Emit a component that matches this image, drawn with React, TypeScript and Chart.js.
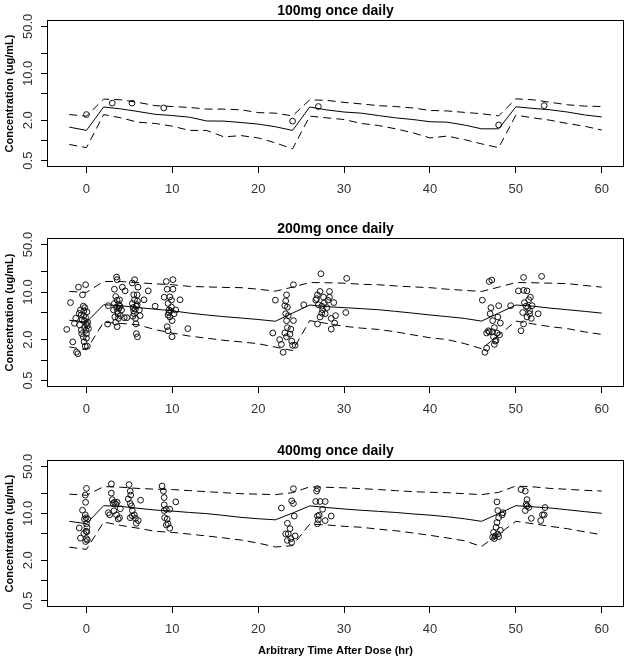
import React, { useEffect, useRef } from 'react';
import { Chart, registerables } from 'chart.js';

Chart.register(...registerables);

// ---------- DATA ----------
const TIMES = [-2, 0, 2, 4, 6, 8, 10, 12, 14, 16, 18, 20, 22, 24, 26, 28, 30, 32, 34, 36, 38, 40, 42, 44, 46, 48, 50, 52, 54, 56, 58, 60];

const X_TICKS = [0, 10, 20, 30, 40, 50, 60];
const Y_TICKS = [0.5, 1, 2, 5, 10, 20, 50];
const Y_TICK_LABELS = ['0.5', '', '2.0', '', '10.0', '', '50.0'];

const TITLES = ['100mg once daily', '200mg once daily', '400mg once daily'];
const Y_TITLE = 'Concentration (ug/mL)';
const X_TITLE = 'Arbitrary Time After Dose (hr)';

// 100 mg
const MEDIAN_100 = [1.58, 1.41, 3.15, 2.95, 2.7, 2.45, 2.35, 2.22, 1.95, 1.94, 1.85, 1.75, 1.6, 1.41, 3.15, 2.85, 2.65, 2.55, 2.35, 2.17, 2.05, 1.9, 1.87, 1.7, 1.49, 1.49, 3.17, 3.0, 2.86, 2.65, 2.4, 2.24];
const P95_100 = [2.43, 2.3, 4.13, 4.03, 3.69, 3.3, 3.2, 3.1, 2.93, 2.93, 2.86, 2.6, 2.55, 2.32, 4.03, 3.95, 3.69, 3.5, 3.3, 3.2, 3.05, 2.8, 2.75, 2.62, 2.5, 2.32, 4.17, 4.03, 3.7, 3.4, 3.25, 3.2];
const P05_100 = [0.87, 0.78, 2.43, 2.17, 1.87, 1.79, 1.63, 1.41, 1.41, 1.13, 1.18, 1.09, 0.92, 0.75, 2.3, 2.17, 2.05, 1.79, 1.67, 1.49, 1.3, 1.09, 1.16, 1.03, 0.89, 0.78, 2.38, 2.17, 2.0, 1.79, 1.63, 1.43];
const OBS_T_100 = [0, 3, 5.3, 9, 24, 27, 48, 53.3];
const OBS_C_100 = [2.43, 3.6, 3.6, 3.05, 1.94, 3.2, 1.7, 3.3];

// 200 mg
const MEDIAN_200 = [3.85, 3.6, 6.5, 6.3, 5.9, 5.6, 5.3, 4.9, 4.6, 4.35, 4.15, 3.95, 3.72, 4.9, 6.45, 6.1, 5.9, 5.7, 5.5, 5.2, 4.9, 4.6, 4.35, 4.1, 3.74, 4.9, 6.45, 6.2, 5.8, 5.5, 5.2, 4.9];
const P95_200 = [10.2, 9.9, 14.3, 14.3, 13.7, 13.2, 12.8, 12.1, 11.9, 11.7, 11.6, 11.0, 10.3, 11.8, 13.8, 13.7, 13.5, 13.0, 12.8, 12.3, 11.9, 11.6, 11.0, 10.6, 10.2, 11.8, 13.8, 13.7, 13.5, 13.3, 12.5, 11.8];
const P05_200 = [1.56, 1.42, 3.6, 3.46, 3.3, 2.8, 2.5, 2.25, 2.1, 1.95, 1.85, 1.74, 1.55, 1.38, 3.8, 3.45, 3.14, 2.95, 2.82, 2.6, 2.35, 2.13, 2.0, 1.75, 1.47, 2.3, 3.74, 3.4, 3.1, 2.9, 2.6, 2.38];
const OBS_T_200 = [
  -2.3, -1.86, -1.6, -1.4, -1.25, -1.16, -1.0, -0.93, -0.84, -0.8, -0.7, -0.6, -0.55, -0.46, -0.37, -0.37, -0.32, -0.28, -0.23, -0.23, -0.19, -0.14, -0.1, -0.05, 0, 0, 0.05, 0.1, 0.14, 0.23, -0.5, -0.3, -0.1, 0.1, -0.6, 0.0,
  2.46, 2.55, 3.25, 3.5, 3.57, 3.4, 3.25, 3.15, 3.3, 3.5, 3.57, 3.67, 3.71, 3.57, 3.76, 3.85, 3.94, 4.08, 4.18, 4.4, 4.5, 4.7, 3.6, 3.8, 3.4, 3.9,
  5.34, 5.6, 5.5, 5.34, 5.43, 5.57, 5.6, 5.71, 5.8, 5.9, 6.0, 5.94, 5.76, 5.8, 5.94, 6.16, 6.25, 6.7, 7.2, 8.0, 5.5, 5.7, 5.4, 5.9,
  9.05, 9.3, 9.4, 9.5, 9.6, 9.7, 9.9, 9.97, 10.07, 9.97, 9.7, 9.9, 10.2, 10.4, 10.9, 10.07, 9.4, 9.5, 11.8, 9.6, 9.8, 9.5,
  22.0, 21.7, 22.5, 22.7, 22.9, 23.1, 23.2, 23.3, 23.2, 23.3, 23.4, 23.1, 23.3, 23.4, 23.5, 23.7, 23.8, 23.9, 24.0, 24.1, 24.1, 24.3, 25.3,
  27.3, 26.7, 26.9, 27.2, 27.4, 27.6, 27.7, 27.8, 28.0, 28.1, 26.9, 27.2, 27.4, 28.3, 28.5, 28.5, 28.8, 28.9, 28.3, 29.0, 30.2, 30.3, 27.0, 27.5, 26.8,
  46.1, 46.4, 46.6, 46.6, 46.8, 46.9, 47.2, 47.0, 47.1, 47.3, 47.4, 47.6, 47.5, 47.7, 47.8, 47.9, 48.0, 48.1, 48.2, 49.4, 47.5, 47.3, 46.9,
  50.3, 50.6, 50.8, 50.9, 50.9, 50.9, 51.0, 51.2, 51.3, 51.4, 51.5, 51.6, 51.7, 51.8, 51.9, 52.6, 53.0, 51.6, 51.3,
];
const OBS_C_200 = [
  2.82, 7.0, 1.85, 3.46, 4.12, 1.31, 1.24, 11.8, 4.86, 3.3, 5.45, 2.75, 2.45, 9.1, 6.2, 2.2, 4.5, 1.86, 3.8, 3.0, 5.9, 1.6, 12.8, 2.75, 2.45, 3.4, 5.1, 1.6, 3.6, 2.9, 3.9, 5.3, 4.2, 3.2, 4.6, 2.1,
  3.38, 6.3, 11.0, 16.6, 15.2, 8.6, 6.8, 5.45, 4.3, 6.0, 7.6, 4.8, 4.1, 3.1, 6.6, 7.7, 4.5, 5.45, 11.8, 4.2, 10.4, 4.2, 5.2, 5.8, 3.6, 6.2,
  13.6, 15.2, 9.1, 6.8, 5.9, 4.8, 7.7, 4.1, 6.2, 9.1, 11.8, 7.4, 3.4, 2.45, 2.2, 5.45, 4.5, 7.7, 10.4, 6.2, 5.3, 5.6, 4.4, 6.5,
  8.4, 14.3, 11.0, 6.8, 5.45, 4.3, 7.6, 3.8, 15.2, 2.2, 8.5, 6.0, 4.8, 5.45, 7.7, 11.0, 3.1, 2.7, 2.9, 5.0, 5.3, 4.6,
  7.6, 2.5, 2.0, 1.7, 1.3, 6.3, 7.4, 9.1, 4.8, 3.8, 3.0, 2.5, 2.2, 6.0, 4.5, 2.4, 2.85, 1.9, 1.65, 12.8, 3.8, 1.65, 6.5,
  18.6, 7.6, 9.1, 10.2, 6.2, 8.4, 7.0, 4.8, 5.9, 7.6, 3.4, 4.3, 4.9, 8.4, 2.85, 4.1, 7.0, 3.5, 10.2, 4.5, 5.0, 15.9, 6.5, 5.5, 8.0,
  7.6, 1.3, 1.5, 2.5, 2.7, 14.3, 15.0, 4.8, 5.9, 3.8, 2.2, 1.9, 3.0, 1.95, 2.5, 4.3, 6.3, 2.35, 3.5, 6.3, 1.7, 2.6, 2.6,
  10.4, 2.7, 5.0, 10.6, 16.4, 3.4, 7.0, 6.2, 4.3, 5.9, 7.7, 4.8, 8.4, 4.1, 6.3, 4.8, 17.0, 5.3, 10.4,
];

// 400 mg
const MEDIAN_400 = [7.6, 7.0, 13.0, 12.7, 11.9, 11.2, 10.8, 10.3, 9.9, 9.3, 8.7, 8.3, 8.0, 10.1, 12.9, 12.2, 11.6, 11.1, 10.7, 10.3, 9.8, 9.4, 8.9, 8.3, 7.6, 9.9, 13.0, 12.5, 12.0, 11.3, 10.6, 10.0];
const P95_400 = [19.3, 18.6, 25.0, 24.5, 23.5, 22.9, 22.6, 21.8, 21.0, 20.3, 19.6, 19.3, 19.0, 20.3, 24.8, 24.4, 24.0, 23.3, 22.6, 21.8, 21.0, 20.6, 20.3, 19.6, 19.0, 20.5, 25.5, 24.8, 23.5, 22.8, 22.0, 21.5];
const P05_400 = [3.13, 2.9, 7.4, 6.6, 6.0, 5.4, 5.2, 4.9, 4.6, 4.3, 4.0, 3.6, 3.15, 3.3, 6.9, 6.7, 6.4, 6.2, 5.8, 5.5, 5.1, 4.7, 4.3, 3.9, 3.2, 4.9, 7.6, 7.0, 6.4, 5.9, 5.3, 4.8];
const OBS_T_400 = [
  -0.84, -0.7, -0.46, -0.23, -0.14, -0.1, -0.14, 0, -0.05, 0, 0.05, -0.05, 0, -0.1, 0.1, 0.14, -0.3, 0.05,
  2.55, 2.7, 2.9, 2.9, 3.0, 3.1, 3.2, 3.25, 3.4, 3.5, 3.57, 3.7, 3.94, 3.85,
  4.96, 5.1, 5.15, 4.87, 5.1, 5.24, 5.34, 5.1, 5.34, 5.57, 5.7, 5.8, 6.03, 6.3,
  8.8, 8.96, 9.05, 9.05, 9.05, 9.1, 9.3, 9.4, 9.5, 9.7, 9.7, 9.3, 10.4,
  22.7, 23.4, 23.5, 23.4, 23.2, 23.7, 23.8, 23.9, 24.1, 23.9, 24.1, 24.2, 24.3,
  26.8, 26.9, 26.7, 26.9, 26.9, 27.1, 27.2, 27.5, 27.8, 27.8, 28.5, 27.0,
  47.3, 47.5, 47.7, 47.8, 47.9, 48.0, 47.8, 47.9, 48.0, 48.2, 48.4, 48.5, 47.6, 47.4,
  50.6, 51.1, 51.2, 51.3, 51.1, 51.5, 51.3, 51.8, 52.9, 53.1, 53.4, 53.3,
];
const OBS_C_400 = [
  6.05, 4.27, 11.1, 8.2, 18.7, 14.6, 9.5, 23.5, 8.6, 7.0, 6.2, 5.4, 4.2, 3.8, 4.0, 8.2, 5.0, 5.3,
  10.2, 9.5, 27.5, 20.0, 16.0, 14.0, 10.9, 14.6, 13.7, 9.5, 14.6, 8.2, 11.7, 8.6,
  26.8, 21.4, 18.7, 16.4, 14.0, 12.9, 11.0, 8.6, 9.1, 9.5, 8.4, 7.1, 7.8, 15.7,
  25.5, 21.4, 17.2, 13.4, 11.0, 8.6, 11.5, 8.2, 7.0, 11.5, 6.0, 6.7, 14.8,
  12.0, 7.1, 4.94, 3.95, 4.94, 5.9, 4.2, 3.7, 23.3, 15.3, 14.0, 9.1, 4.6,
  21.4, 23.3, 15.0, 9.1, 7.0, 9.4, 15.0, 11.5, 15.0, 7.8, 9.1, 8.0,
  4.4, 4.2, 6.2, 7.3, 4.9, 4.5, 14.8, 11.0, 8.6, 5.6, 9.5, 10.2, 4.6, 5.2,
  22.6, 21.4, 13.7, 16.0, 11.0, 12.2, 12.9, 8.4, 7.8, 9.5, 12.2, 9.5,
];

const X_MIN = -4.48;
const X_MAX = 62.48;
const Y_MIN = 0.416;
const Y_MAX = 60.2;

// ---------- STYLE ----------
const FONT = "'Liberation Sans', Arial, Helvetica, sans-serif";

const PANELS = [
  { title: TITLES[0], median: MEDIAN_100, p95: P95_100, p05: P05_100, obsT: OBS_T_100, obsC: OBS_C_100, height: 219, areaTop: 21, areaBottom: 166, xTitle: false },
  { title: TITLES[1], median: MEDIAN_200, p95: P95_200, p05: P05_200, obsT: OBS_T_200, obsC: OBS_C_200, height: 220, areaTop: 20, areaBottom: 167, xTitle: false },
  { title: TITLES[2], median: MEDIAN_400, p95: P95_400, p05: P05_400, obsT: OBS_T_400, obsC: OBS_C_400, height: 219, areaTop: 22, areaBottom: 167, xTitle: true },
];

const boxPlugin = {
  id: 'boxPlugin',
  afterDraw(chart: any) {
    const { ctx, chartArea } = chart;
    ctx.save();
    ctx.strokeStyle = '#000';
    ctx.lineWidth = 1;
    ctx.strokeRect(Math.round(chartArea.left) - 0.5, Math.round(chartArea.top) - 0.5, Math.round(chartArea.right - chartArea.left) + 1, Math.round(chartArea.bottom - chartArea.top) + 1);
    ctx.restore();
  },
};

function toXY(xs: number[], ys: number[]) {
  return xs.map((x, i) => ({ x, y: ys[i] }));
}

function Panel(props: any) {
  const { title, median, p95, p05, obsT, obsC, height, areaTop, areaBottom, xTitle } = props;
  const ref = useRef<HTMLCanvasElement>(null);
  useEffect(() => {
    if (!ref.current) return;
    const lineBase = { showLine: true, pointRadius: 0, borderColor: '#000', borderWidth: 1, fill: false, tension: 0 };
    const titlePadBottom = 3;
    const chart = new Chart(ref.current, {
      type: 'scatter',
      data: {
        datasets: [
          { ...lineBase, data: toXY(TIMES, p95), borderDash: [8, 5] },
          { ...lineBase, data: toXY(TIMES, median) },
          { ...lineBase, data: toXY(TIMES, p05), borderDash: [8, 5] },
          {
            data: toXY(obsT, obsC),
            showLine: false,
            pointStyle: 'circle',
            pointRadius: 2.9,
            pointBorderWidth: 1,
            borderWidth: 1,
            borderColor: '#111',
            backgroundColor: 'rgba(0,0,0,0)',
            pointBackgroundColor: 'rgba(0,0,0,0)',
          },
        ],
      } as any,
      options: {
        animation: false,
        responsive: false,
        devicePixelRatio: 1,
        events: [],
        layout: { padding: { left: 0, right: 3, top: 0, bottom: 0 }, autoPadding: false },
        plugins: {
          legend: { display: false },
          tooltip: { enabled: false },
          title: {
            display: true,
            text: title,
            fullSize: false,
            color: '#000',
            font: { family: FONT, size: 14, weight: 'bold', lineHeight: 1 },
            padding: { top: areaTop - 14 - titlePadBottom, bottom: titlePadBottom },
          },
        },
        scales: {
          x: {
            type: 'linear',
            min: X_MIN,
            max: X_MAX,
            afterBuildTicks: (s: any) => {
              s.ticks = X_TICKS.map((v) => ({ value: v }));
            },
            afterFit: (s: any) => {
              s.height = height - areaBottom;
            },
            grid: { display: true, drawOnChartArea: false, drawTicks: true, tickLength: 7, color: '#000', lineWidth: 1 },
            border: { display: false },
            ticks: {
              autoSkip: false,
              maxRotation: 0,
              minRotation: 0,
              padding: 9,
              color: '#333',
              font: { family: FONT, size: 13 },
              callback: (v: any) => String(v),
            },
            title: {
              display: xTitle,
              text: X_TITLE,
              color: '#000',
              font: { family: FONT, size: 11, weight: 'bold', lineHeight: 1.2 },
              padding: { top: 0, bottom: 0.5 },
            },
          },
          y: {
            type: 'logarithmic',
            min: Y_MIN,
            max: Y_MAX,
            afterBuildTicks: (s: any) => {
              s.ticks = Y_TICKS.map((v) => ({ value: v }));
            },
            afterFit: (s: any) => {
              s.width = 48;
            },
            grid: { display: true, drawOnChartArea: false, drawTicks: true, tickLength: 7, color: '#000', lineWidth: 1 },
            border: { display: false },
            ticks: {
              autoSkip: false,
              minRotation: 90,
              maxRotation: 90,
              crossAlign: 'center',
              padding: 0,
              color: '#333',
              font: { family: FONT, size: 13 },
              callback: (v: any) => {
                const i = Y_TICKS.indexOf(Number(v));
                return i >= 0 ? Y_TICK_LABELS[i] : '';
              },
            },
            title: {
              display: true,
              text: Y_TITLE,
              color: '#000',
              font: { family: FONT, size: 11, weight: 'bold', lineHeight: 1.2 },
              padding: { top: 3, bottom: 0 },
            },
          },
        },
      } as any,
      plugins: [boxPlugin],
    });
    return () => chart.destroy();
  }, []);
  return <canvas ref={ref} width={626} height={height} style={{ display: 'block', width: 626, height }} />;
}

export default function App() {
  return (
    <div style={{ position: 'absolute', left: 0, top: 0, width: 626, height: 658, background: '#fff', overflow: 'hidden' }}>
      {PANELS.map((p, i) => (
        <Panel key={i} {...p} />
      ))}
    </div>
  );
}
